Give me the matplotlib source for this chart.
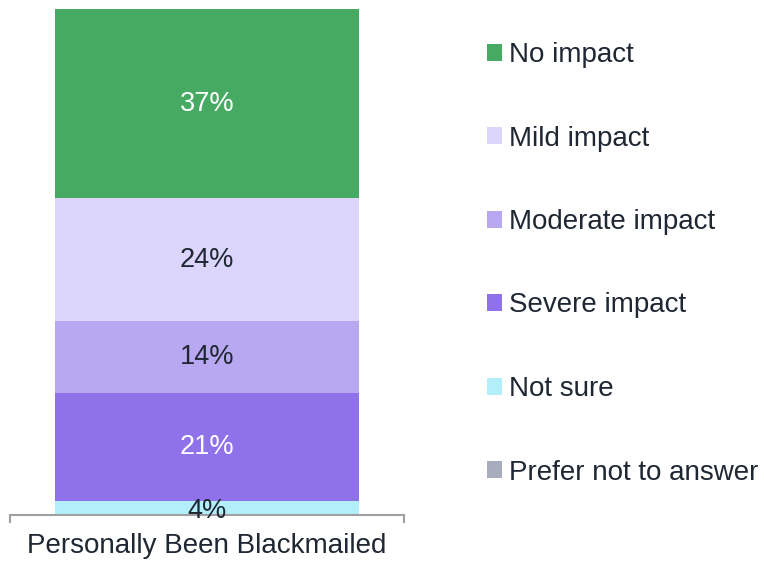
import matplotlib.pyplot as plt
import numpy as np

plt.rcParams['font.family'] = ['Liberation Sans', 'DejaVu Sans']

# данные
category = "Personally Been Blackmailed"
series = ["Prefer not to answer", "Not sure", "Severe impact", "Moderate impact", "Mild impact", "No impact"]
values = [0, 4, 21, 14, 24, 37]
colors = ["#a7adbd", "#b3effa", "#8f72ea", "#b8a8f2", "#dcd5fc", "#46aa63"]
text_colors = ["#1f2733", "#1f2733", "white", "#1f2733", "#1f2733", "white"]

fig = plt.figure(figsize=(7.64, 5.62), dpi=100)
ax = fig.add_axes([10 / 764, 47 / 562, 394 / 764, 506 / 562])

bottom = 0
handles = []
for name, v, c, tc in zip(series, values, colors, text_colors):
    b = ax.bar(0, v, bottom=bottom, width=0.774, color=c, label=name)
    handles.append(b)
    if v > 0:
        ax.text(0, bottom + v / 2, f"{v}%", ha="center", va="center",
                fontsize=19.5, color=tc)
    bottom += v

ax.set_xlim(-0.5, 0.5)
ax.set_ylim(1.2, 100)

# оси
for s in ["top", "right", "left"]:
    ax.spines[s].set_visible(False)
ax.spines["bottom"].set_color("#a0a0a0")
ax.spines["bottom"].set_linewidth(1.5)
ax.set_yticks([])
ax.set_xticks([0])
ax.set_xticklabels([category], fontsize=20, color="#1f2733")
ax.tick_params(axis="x", which="major", length=0, pad=13)
ax.set_xticks([-0.5, 0.5], minor=True)
ax.tick_params(axis="x", which="minor", length=6, width=1.5, color="#a0a0a0")

# легенда
leg = fig.legend(handles[::-1], series[::-1], loc="upper left",
                 bbox_to_anchor=(462 / 764, 1 - 17 / 562), frameon=False,
                 fontsize=20, handlelength=0.55, handleheight=0.55,
                 handletextpad=0.25, labelspacing=2.07, labelcolor="#1f2733")

fig.savefig("out.png", dpi=100)
